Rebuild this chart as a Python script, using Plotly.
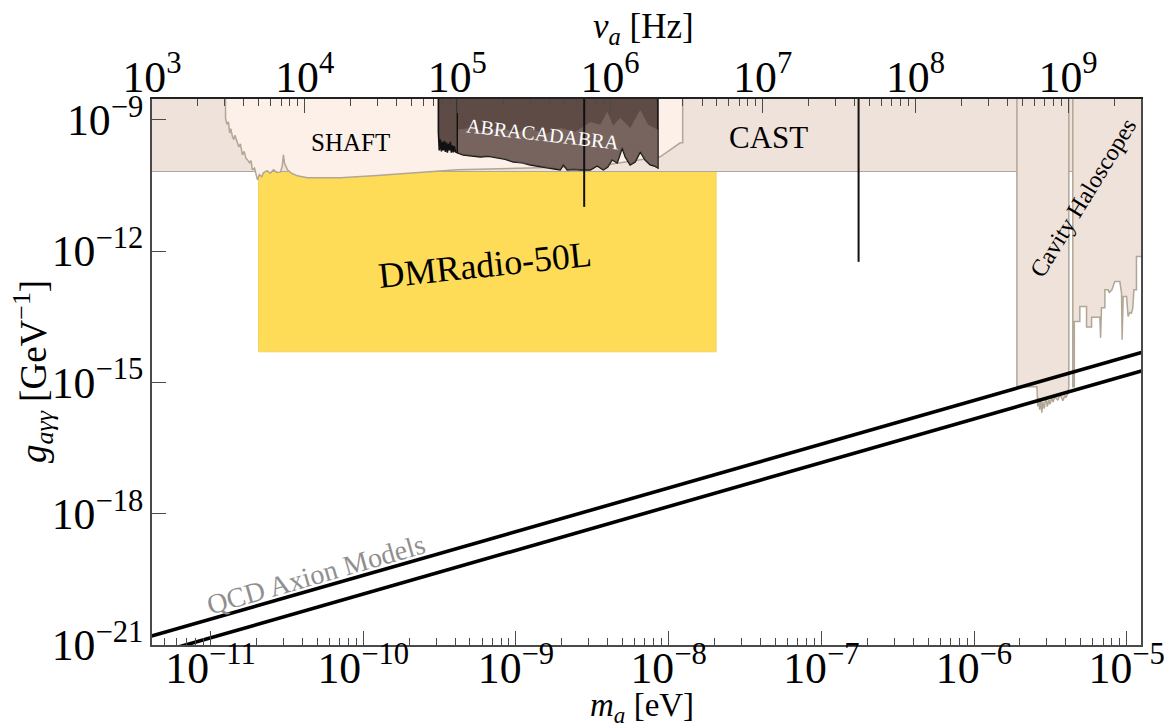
import numpy as np
import plotly.graph_objects as go

# ---------------- data (log10 units: mass in eV, coupling in GeV^-1) ----------------
H_EV_S = 4.135667696e-15          # Planck constant, eV*s (mass <-> frequency)
NU_RANGE_HZ = [1e3, 3e9]          # top-axis span
G_RANGE = [1e-21, 3e-9]           # coupling span
LOG_TOP = -8.3                    # regions extend above the plot

CAST_LOG_G = -10.18               # CAST helioscope limit
CAST_LOG_M = [-13.0, -4.0]

DMRADIO_LOG_M = [-10.686, -7.689]
DMRADIO_LOG_G = [-14.30, -10.18]

SHAFT_EDGE = [
    (-10.902, LOG_TOP), (-10.902, -8.954), (-10.893, -9.10), (-10.883, -9.046), (-10.875, -9.30),
    (-10.868, -9.20), (-10.856, -9.388), (-10.848, -9.45), (-10.840, -9.35), (-10.824, -9.525),
    (-10.815, -9.62), (-10.805, -9.55), (-10.791, -9.80), (-10.780, -9.72), (-10.768, -9.88),
    (-10.758, -9.914), (-10.745, -9.98), (-10.735, -9.93), (-10.726, -10.142), (-10.712, -10.10),
    (-10.700, -10.25), (-10.693, -10.371), (-10.680, -10.25), (-10.665, -10.30), (-10.654, -10.211),
    (-10.630, -10.16), (-10.610, -10.22), (-10.588, -10.142), (-10.565, -10.20), (-10.542, -10.188),
    (-10.530, -10.05), (-10.523, -9.80), (-10.515, -10.00), (-10.496, -10.142), (-10.470, -10.22),
    (-10.431, -10.279), (-10.366, -10.325), (-10.150, -10.325), (-9.934, -10.279), (-9.541, -10.188),
    (-9.384, -10.142), (-8.906, -10.097), (-8.448, -10.05), (-8.055, -9.845), (-7.924, -9.525),
    (-7.908, -9.525), (-7.908, LOG_TOP),
]

ABRA_EDGE = [
    (-9.508, LOG_TOP), (-9.508, -9.274), (-9.502, -9.70), (-9.495, -9.45), (-9.488, -9.72),
    (-9.481, -9.50), (-9.475, -9.70), (-9.468, -9.48), (-9.462, -9.73), (-9.455, -9.52),
    (-9.449, -9.75), (-9.442, -9.55), (-9.436, -9.70), (-9.430, -9.50), (-9.423, -9.75),
    (-9.417, -9.58), (-9.410, -9.74), (-9.404, -9.60), (-9.397, -9.73), (-9.384, -9.754),
    (-9.345, -9.800), (-9.300, -9.82), (-9.233, -9.845), (-9.180, -9.83), (-9.122, -9.868),
    (-9.070, -9.90), (-9.017, -9.960), (-8.960, -9.98), (-8.906, -10.028), (-8.850, -10.06),
    (-8.795, -10.097), (-8.750, -10.11), (-8.710, -10.142), (-8.690, -10.028), (-8.664, -10.142),
    (-8.620, -10.13), (-8.579, -10.142), (-8.513, -10.142), (-8.468, -10.051), (-8.428, -10.142),
    (-8.400, -10.08), (-8.370, -9.914), (-8.337, -9.982), (-8.304, -9.640), (-8.284, -9.845),
    (-8.252, -10.028), (-8.219, -9.960), (-8.186, -9.731), (-8.154, -9.914), (-8.121, -10.028),
    (-8.095, -10.051), (-8.070, -10.097), (-8.070, LOG_TOP),
]

ABRA_MID_TOP = [
    (-9.384, -9.228), (-9.299, -9.183), (-9.201, -9.274), (-9.102, -9.160), (-9.004, -9.297),
    (-8.906, -9.183), (-8.808, -9.320), (-8.710, -9.183), (-8.612, -9.274), (-8.513, -9.046),
    (-8.448, -9.114), (-8.402, -8.817), (-8.363, -9.137), (-8.317, -8.954), (-8.252, -9.183),
    (-8.186, -8.772), (-8.134, -9.114), (-8.070, -9.228),
]

ABRA_RUN_SPLIT = [(-9.384, LOG_TOP), (-9.384, -9.754)]

CAVITY_A = [
    (-5.719, LOG_TOP), (-5.719, -15.10), (-5.588, -15.10), (-5.583, -15.55), (-5.578, -15.35),
    (-5.570, -15.62), (-5.562, -15.40), (-5.556, -15.69), (-5.549, -15.45), (-5.540, -15.60),
    (-5.529, -15.35), (-5.520, -15.55), (-5.510, -15.40), (-5.503, -15.50), (-5.490, -15.35),
    (-5.483, -15.45), (-5.470, -15.33), (-5.451, -15.40), (-5.435, -15.28), (-5.418, -15.42),
    (-5.405, -15.30), (-5.398, -15.35), (-5.385, -15.25), (-5.379, -15.10), (-5.379, LOG_TOP),
]

CAVITY_B = [
    (-5.353, LOG_TOP), (-5.353, -15.10), (-5.343, -15.10), (-5.343, -13.608), (-5.307, -13.608),
    (-5.307, -13.266), (-5.263, -13.266), (-5.263, -13.736), (-5.230, -13.736), (-5.230, -13.508),
    (-5.176, -13.508), (-5.171, -13.981), (-5.165, -13.295), (-5.143, -13.295), (-5.143, -12.884),
    (-5.121, -12.884), (-5.115, -12.952), (-5.097, -12.884), (-5.078, -12.694), (-5.045, -12.694),
    (-5.034, -12.952), (-5.030, -14.026), (-5.023, -13.037), (-5.001, -13.037), (-4.991, -13.494),
    (-4.980, -13.40), (-4.969, -13.416), (-4.960, -13.30), (-4.953, -12.884), (-4.936, -12.884),
    (-4.936, -12.123), (-4.850, -12.123), (-4.850, LOG_TOP),
]

SPIKES = [  # narrow exclusions reaching below CAST: (log m, log g of tip)
    (-8.553, -10.988),
    (-6.756, -12.244),
]

QCD_LOG_M = [-12.0, -4.0]
KSVZ_LOG_G = [-21.41, -13.41]
DFSZ_LOG_G = [-21.835, -13.835]

# ---------------- styling ----------------
SERIF = "Liberation Serif"
C_CAST = "#EEE2DA"
C_SHAFT = "#FCF0E8"
C_EDGE = "#B2A696"
C_ABRA = "#5E4B46"
C_YELLOW = "#FEDC57"
AX_COL = "#4a4a4a"


def pts(pairs):
    a = np.array(pairs, dtype=float)
    return 10 ** a[:, 0], 10 ** a[:, 1]


fig = go.Figure()

# DMRadio-50L projection
mx = 10 ** np.array(DMRADIO_LOG_M)
gy = 10 ** np.array(DMRADIO_LOG_G)
fig.add_trace(go.Scatter(x=[mx[0], mx[1], mx[1], mx[0], mx[0]], y=[gy[0], gy[0], gy[1], gy[1], gy[0]],
                         fill="toself", fillcolor=C_YELLOW, mode="lines",
                         line=dict(color="#F5D259", width=1), hoverinfo="skip"))

# CAST
cm = 10 ** np.array(CAST_LOG_M)
cg = 10 ** CAST_LOG_G
fig.add_trace(go.Scatter(x=[cm[0], cm[1], cm[1], cm[0], cm[0]], y=[cg, cg, 10 ** LOG_TOP, 10 ** LOG_TOP, cg],
                         fill="toself", fillcolor=C_CAST, mode="lines",
                         line=dict(color=C_EDGE, width=1.2), hoverinfo="skip"))

# Cavity haloscopes
for poly in (CAVITY_A, CAVITY_B):
    x, y = pts(poly)
    fig.add_trace(go.Scatter(x=x, y=y, fill="toself", fillcolor=C_CAST, mode="lines",
                             line=dict(color=C_EDGE, width=1.5), hoverinfo="skip"))

# SHAFT
x, y = pts(SHAFT_EDGE)
fig.add_trace(go.Scatter(x=x, y=y, fill="toself", fillcolor=C_SHAFT, mode="lines",
                         line=dict(color=C_EDGE, width=1.5), hoverinfo="skip"))

# ABRACADABRA
x, y = pts(ABRA_EDGE)
fig.add_trace(go.Scatter(x=x, y=y, fill="toself", fillcolor=C_ABRA, mode="lines",
                         line=dict(color="#111111", width=1.6), hoverinfo="skip"))
bottom = [p for p in ABRA_EDGE if -9.384 <= p[0] and p[1] != LOG_TOP]
mid_poly = ABRA_MID_TOP + bottom[::-1]
x, y = pts(mid_poly)
fig.add_trace(go.Scatter(x=x, y=y, fill="toself", fillcolor="rgba(160,138,130,0.40)", mode="lines",
                         line=dict(width=0), hoverinfo="skip"))
x, y = pts(ABRA_RUN_SPLIT)
fig.add_trace(go.Scatter(x=x, y=y, mode="lines", line=dict(color="#111111", width=1.4), hoverinfo="skip"))

# narrow spikes
for lm, lg in SPIKES:
    fig.add_trace(go.Scatter(x=[10 ** lm, 10 ** lm], y=[10 ** LOG_TOP, 10 ** lg], mode="lines",
                             line=dict(color="#111111", width=2), hoverinfo="skip"))

# QCD axion band edges
qm = 10 ** np.array(QCD_LOG_M)
for lg in (KSVZ_LOG_G, DFSZ_LOG_G):
    fig.add_trace(go.Scatter(x=qm, y=10 ** np.array(lg), mode="lines",
                             line=dict(color="black", width=3.6), hoverinfo="skip"))

# invisible trace that carries the frequency axis
fig.add_trace(go.Scatter(x=NU_RANGE_HZ, y=G_RANGE, xaxis="x2", mode="lines",
                         line=dict(width=0), opacity=0, hoverinfo="skip"))

eps = 1e-4
m_lo = np.log10(NU_RANGE_HZ[0] * H_EV_S) - eps
m_hi = np.log10(NU_RANGE_HZ[1] * H_EV_S)
nu_lo = np.log10(NU_RANGE_HZ[0]) - eps
nu_hi = np.log10(NU_RANGE_HZ[1])

tickfont = dict(family=SERIF, size=35, color="black")
minor = dict(ticks="inside", ticklen=7, tickwidth=1.2, tickcolor=AX_COL, dtick="D1", showgrid=False)

fig.update_layout(
    width=1167, height=728,
    margin=dict(l=152, r=26, t=99, b=83, autoexpand=False),
    paper_bgcolor="white", plot_bgcolor="white",
    showlegend=False,
    xaxis=dict(type="log", range=[m_lo, m_hi], dtick=1, exponentformat="power",
               ticks="inside", ticklen=14, tickwidth=1.3, tickcolor=AX_COL,
               minor=minor, showgrid=False, zeroline=False,
               showline=True, linecolor=AX_COL, linewidth=1.5, mirror=False,
               tickfont=tickfont, automargin=False, ticklabelstandoff=-15),
    xaxis2=dict(type="log", range=[nu_lo, nu_hi], dtick=1, exponentformat="power",
                overlaying="x", side="top", anchor="y",
                ticks="inside", ticklen=14, tickwidth=1.3, tickcolor=AX_COL,
                minor=minor, showgrid=False, zeroline=False,
                showline=True, linecolor="#222222", linewidth=1.5,
                tickfont=tickfont, automargin=False, ticklabelstandoff=-10),
    yaxis=dict(type="log", range=[np.log10(G_RANGE[0]) - eps, np.log10(G_RANGE[1])], dtick=3,
               exponentformat="power", ticks="inside", ticklen=14, tickwidth=1.3, tickcolor=AX_COL,
               showgrid=False, zeroline=False, showline=True, linecolor=AX_COL, linewidth=1.5,
               mirror=True, tickfont=tickfont, automargin=False),
)


def label(text, px, py, size, angle=0, color="black"):
    fig.add_annotation(text=text, xref="paper", yref="paper",
                       x=(px - 152) / 989, y=(645 - py) / 546,
                       showarrow=False, textangle=angle,
                       font=dict(family=SERIF, size=size, color=color),
                       xanchor="center", yanchor="middle")


# axis titles
label("<i>m<sub>a</sub></i> [eV]", 642, 707, 33)
label("<i>ν<sub>a</sub></i> [Hz]", 643, 28, 35)
label("<i>g<sub>aγγ</sub></i> [GeV<sup>−1</sup>]", 33, 372, 37, angle=-90)

# region labels
label("SHAFT", 350, 142, 25)
label("ABRACADABRA", 543, 134, 20, angle=6.5, color="white")
label("CAST", 768, 137, 31)
label("DMRadio-50L", 485, 265, 36, angle=-6)
label("Cavity Haloscopes", 1083, 198, 24, angle=-58.5)
label("QCD Axion Models", 316, 574, 28, angle=-16, color="#8F8F8F")

fig.write_html("out.html")
